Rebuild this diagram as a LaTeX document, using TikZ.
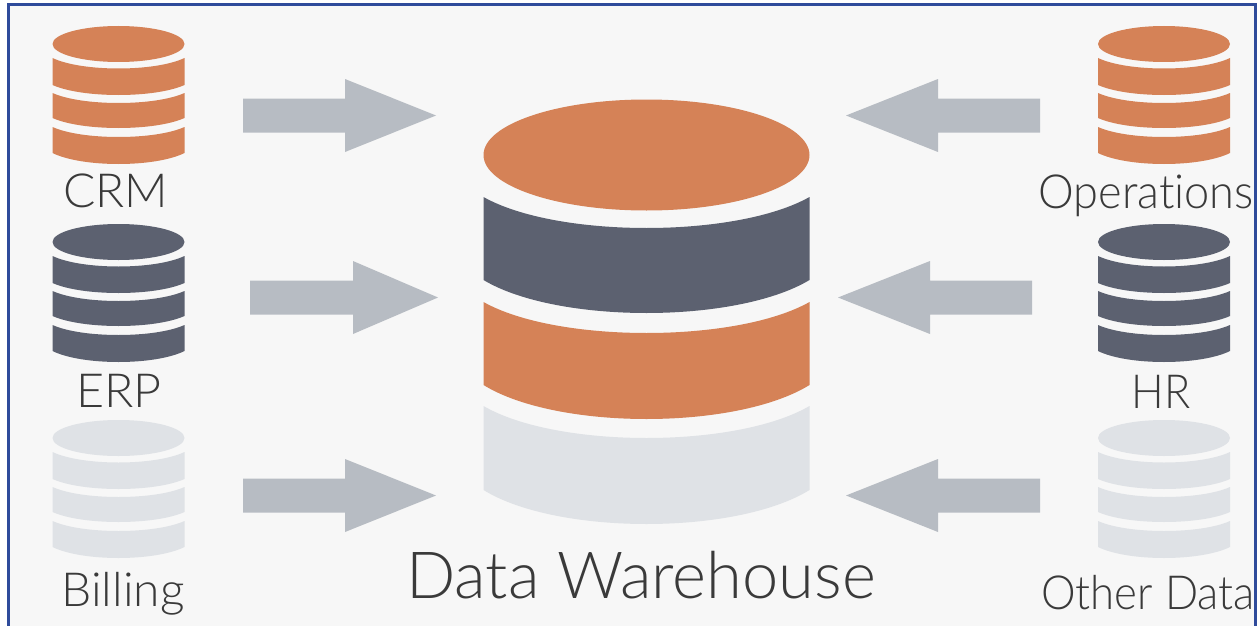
\documentclass[tikz,border=0pt]{standalone}
\usepackage{fontspec}
\setmainfont{Lato Light}[Ligatures=NoCommon]
\definecolor{orangec}{HTML}{D58257}
\definecolor{darkc}{HTML}{5C6170}
\definecolor{lightc}{HTML}{DFE2E6}
\definecolor{arrowc}{HTML}{B7BCC3}
\definecolor{bgc}{HTML}{F7F7F7}
\definecolor{framec}{HTML}{2F4B9B}
\definecolor{textc}{HTML}{3A3A3A}
% one curved band: cx, rx, side-top, mid-top, side-bottom, mid-bottom, colour
\newcommand{\cylband}[7]{%
  \pgfmathsetmacro{\ctop}{(4*#4-#3)/3}%
  \pgfmathsetmacro{\cbot}{(4*#6-#5)/3}%
  \fill[#7] (#1-#2,#3) .. controls (#1-0.55*#2,\ctop) and (#1+0.55*#2,\ctop) .. (#1+#2,#3)
    -- (#1+#2,#5) .. controls (#1+0.55*#2,\cbot) and (#1-0.55*#2,\cbot) .. (#1-#2,#5) -- cycle;}
% small cylinder: cx, downward offset, colour
\newcommand{\smallcyl}[3]{%
  \begin{scope}[yshift=-#2pt]
    \fill[#3] (#1,44) ellipse [x radius=66, y radius=18];
    \cylband{#1}{66}{58}{68.5}{85}{95}{#3}
    \cylband{#1}{66}{93}{103}{118}{128}{#3}
    \cylband{#1}{66}{127}{137}{153}{164}{#3}
  \end{scope}}
% block arrow: tail x, head base x, tip x, centre y
\newcommand{\blockarrow}[4]{%
  \fill[arrowc] (#1,#4-17) -- (#2,#4-17) -- (#2,#4-36.5) -- (#3,#4) -- (#2,#4+36.5) -- (#2,#4+17) -- (#1,#4+17) -- cycle;}
\tikzset{
  lab/.style={inner sep=0pt,text=textc,transform shape,font=\fontsize{47}{50}\selectfont},
  biglab/.style={inner sep=0pt,text=textc,font=\fontsize{65}{70}\selectfont}
}
\begin{document}
\begin{tikzpicture}[x=1pt,y=-1pt]
\useasboundingbox (0,0) rectangle (1258,626);
\fill[white] (0,0) rectangle (1258,626);
\fill[bgc] (8,5) rectangle (1255,626);
\draw[framec,line width=3pt] (8,626) -- (8,5) -- (1255,5) -- (1255,626);
% small cylinders
\smallcyl{118.5}{0}{orangec}
\smallcyl{118.5}{198}{darkc}
\smallcyl{118.5}{394}{lightc}
\smallcyl{1164}{0}{orangec}
\smallcyl{1164}{198}{darkc}
\smallcyl{1164}{394}{lightc}
% central cylinder
\fill[orangec] (646.5,155) ellipse [x radius=163, y radius=55.5];
\cylband{646.5}{163}{197}{228}{280}{313}{darkc}
\cylband{646.5}{163}{302}{333}{385}{419}{orangec}
\cylband{646.5}{163}{406}{438}{490}{524}{lightc}
% arrows
\blockarrow{243}{345}{436}{115.5}
\blockarrow{250}{353}{438}{297.5}
\blockarrow{243}{345}{436}{495.5}
\blockarrow{1040}{938}{846}{115.5}
\blockarrow{1032}{930}{838}{297.5}
\blockarrow{1040}{938}{846}{495.5}
% labels
\node[lab,xscale=1.02] (crm) at (116,191) {CRM};
\node[lab,xscale=1.03] (erp) at (119,391) {ERP};
\node[lab,xscale=1.02] (billing) at (123,594) {Billing};
\node[lab,xscale=0.96] (ops) at (1146,196) {Operations};
\node[lab,xscale=0.92] (hr) at (1161,392) {HR};
\node[lab,xscale=0.93] (other) at (1148,593) {Other Data};
\node[biglab] (dw) at (641,575) {Data Warehouse};
\end{tikzpicture}
\end{document}
